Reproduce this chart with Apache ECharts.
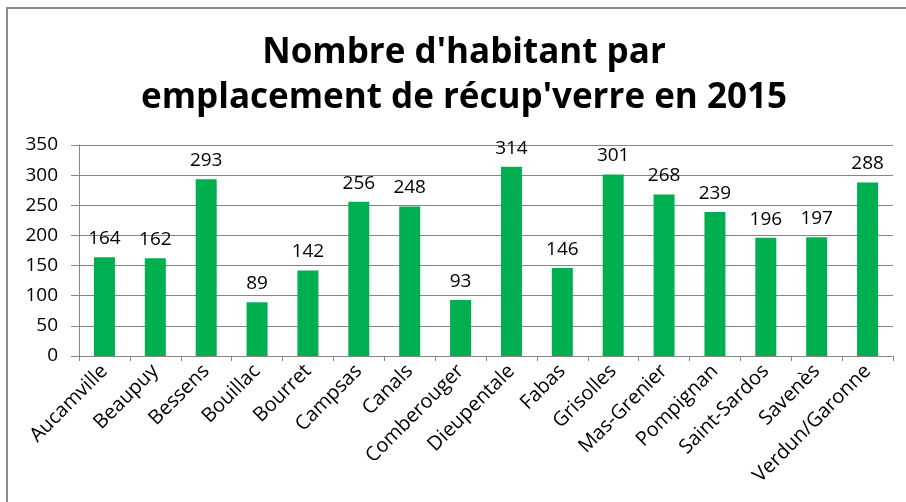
<!DOCTYPE html>
<html>
<head>
    <meta charset="utf-8">
    <title>Nombre d'habitant par emplacement</title>
    <script src="https://cdn.jsdelivr.net/npm/echarts@6/dist/echarts.min.js"></script>
    <style>
        html, body { margin: 0; padding: 0; background: #fff; }
        #chart1 { width: 906px; height: 502px; }
    </style>
</head>
<body>
<div id="chart1"></div>
<script type="text/javascript">
    // communes
    var communes = ['Aucamville', 'Beaupuy', 'Bessens', 'Bouillac', 'Bourret', 'Campsas', 'Canals', 'Comberouger',
        'Dieupentale', 'Fabas', 'Grisolles', 'Mas-Grenier', 'Pompignan', 'Saint-Sardos', 'Savenès', 'Verdun/Garonne'];
    // habitants par emplacement
    var habitants = [164, 162, 293, 89, 142, 256, 248, 93, 314, 146, 301, 268, 239, 196, 197, 288];

    var titre = "Nombre d'habitant par\nemplacement de récup'verre en 2015";

    var myChart1 = echarts.init(document.getElementById('chart1'));
    myChart1.setOption({
        animation: false,
        graphic: [{
            type: 'rect',
            shape: { x: 7, y: 8, width: 960, height: 560 },
            style: { fill: 'none', stroke: '#8c8c8c', lineWidth: 2 }
        }],
        title: {
            text: titre,
            left: 459,
            textAlign: 'center',
            top: 26,
            textStyle: {
                fontFamily: 'Open Sans',
                fontWeight: 'bold',
                fontSize: 35,
                lineHeight: 45,
                color: '#000'
            }
        },
        grid: { left: 79, right: 13, top: 145, bottom: 146 },
        xAxis: {
            type: 'category',
            data: communes,
            axisLine: { lineStyle: { color: '#868686', width: 1 } },
            axisTick: { show: true, length: 5, lineStyle: { color: '#868686' } },
            axisLabel: {
                rotate: 45,
                margin: 12,
                interval: 0,
                fontFamily: 'Open Sans',
                fontSize: 20,
                color: '#000'
            }
        },
        yAxis: {
            type: 'value',
            min: 0,
            max: 350,
            interval: 50,
            axisLine: { show: true, lineStyle: { color: '#868686' } },
            axisTick: { show: true, length: 8, inside: false, lineStyle: { color: '#868686' } },
            splitLine: { lineStyle: { color: '#868686', width: 1 } },
            axisLabel: {
                margin: 21,
                fontFamily: 'Open Sans',
                fontSize: 19,
                color: '#000'
            }
        },
        series: [{
            name: 'habitants',
            type: 'bar',
            data: habitants,
            barWidth: 21,
            itemStyle: { color: '#00b050' },
            label: {
                show: true,
                position: 'top',
                distance: 9,
                fontFamily: 'Open Sans',
                fontSize: 19,
                color: '#000'
            }
        }]
    });
</script>
</body>
</html>
